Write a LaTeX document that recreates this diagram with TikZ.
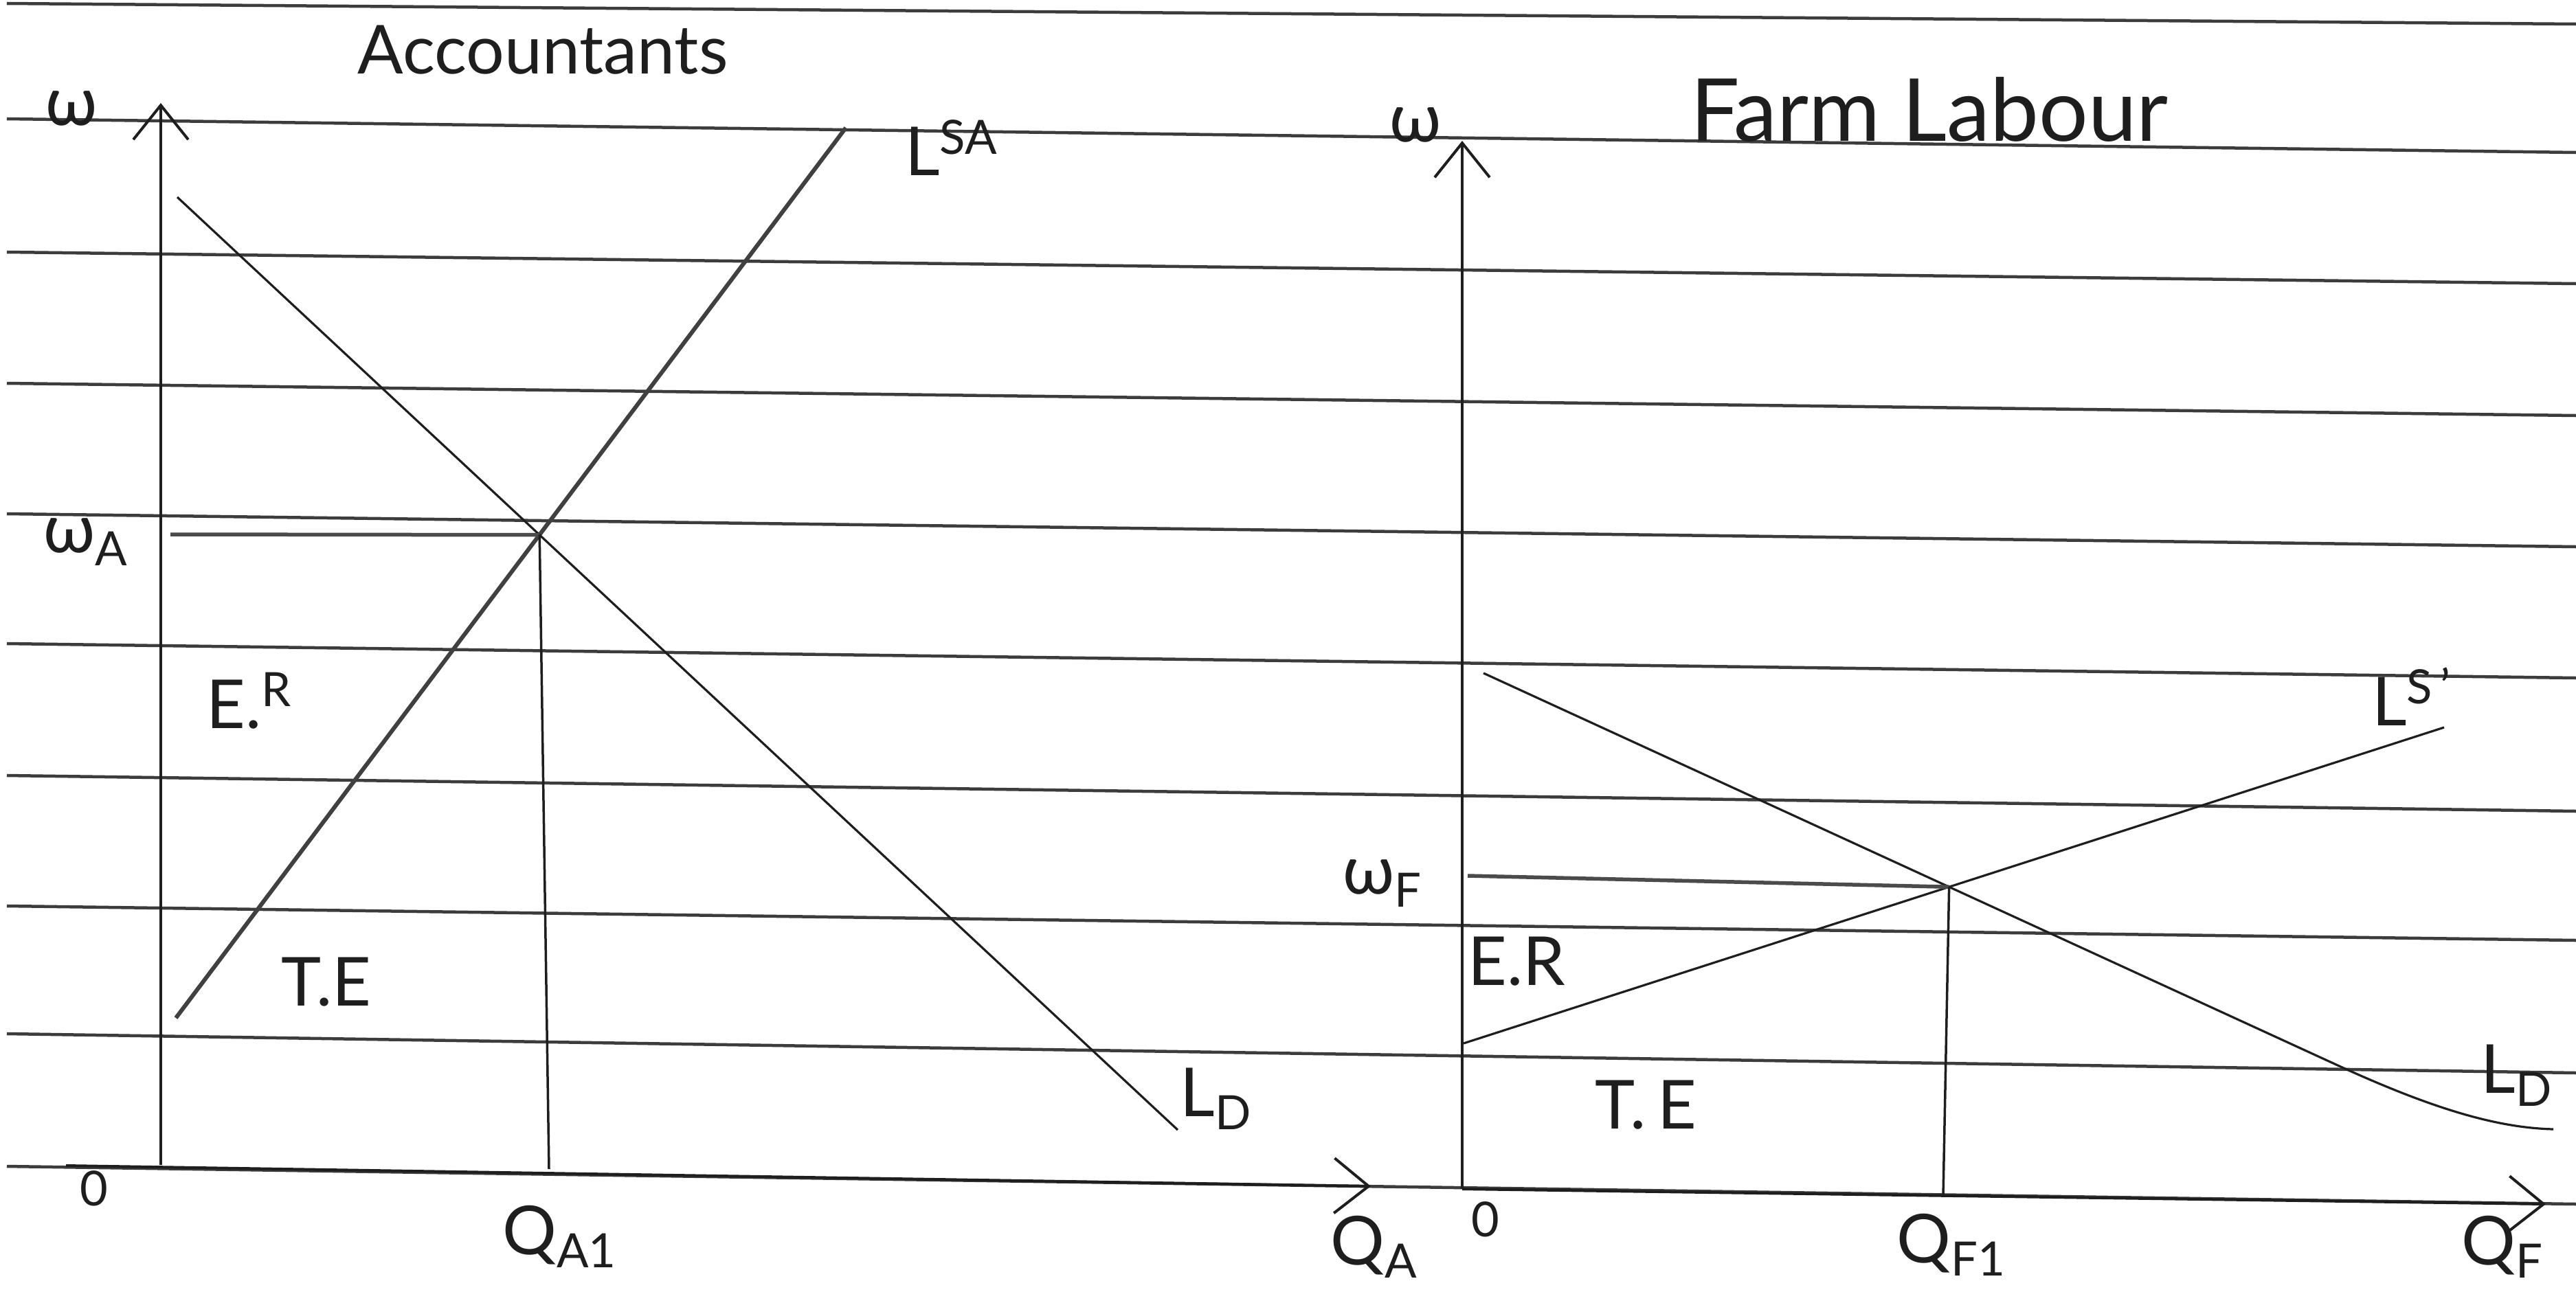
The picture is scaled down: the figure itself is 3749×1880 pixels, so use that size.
\documentclass[tikz,border=0pt]{standalone}
\usepackage{fontspec}
\setmainfont{Lato}
\usepackage{tikz}
\usetikzlibrary{arrows.meta}
\definecolor{ink}{HTML}{1E1E1E}
\definecolor{rule}{HTML}{3C3C3C}
\tikzset{
  paper/.style  = {draw=rule, line width=0.45mm},
  axis/.style   = {draw=ink, line width=0.4mm, -{Straight Barb[length=5mm, width=8mm]}},
  supply/.style = {draw=ink!85, line width=0.6mm},
  demand/.style = {draw=ink, line width=0.32mm},
  guide/.style  = {draw=ink!80, line width=0.55mm},
  drop/.style   = {draw=ink, line width=0.35mm},
  lbl/.style    = {font=\fontsize{28}{32}\selectfont, text=ink, inner sep=0pt},
  small/.style  = {font=\fontsize{20}{24}\selectfont, text=ink, inner sep=0pt},
  title/.style  = {font=\fontsize{#1}{#1}\selectfont, text=ink, inner sep=0pt, anchor=base},
}

\begin{document}
\begin{tikzpicture}[x=0.1mm, y=-0.1mm]
  \useasboundingbox (0,0) rectangle (3749,1880);

  %% ---------------- ruled paper ---------------------------------------------
  \foreach \l/\r in {5/35,173/222,367/413,558/605,748/796,937/987,1129/1181,1319/1369,1505/1562,1698/1753}
    \draw[paper] (10,\l) -- (3749,\r);

  %% ---------------- panel (a): accountants ----------------------------------
  \node[title=28] (ttlA) at (790,107) {Accountants};
  \coordinate (oA)  at (234,1696);
  \coordinate (yA)  at (234,150);
  \coordinate (xA0) at (96,1697);
  \coordinate (xA)  at (1995,1727);
  \draw[axis] (oA) -- (yA);
  \draw[axis] (xA0) -- (xA);

  \coordinate (sA0) at (256,1482);
  \coordinate (sA1) at (1231,186);
  \coordinate (dA0) at (258,287);
  \coordinate (dA1) at (1714,1645);
  \draw[supply] (sA0) -- (sA1);
  \draw[demand] (dA0) -- (dA1);
  \coordinate (eA) at (intersection of sA0--sA1 and dA0--dA1);
  \coordinate (wA) at (248,778);
  \coordinate (qA) at (799,1702);
  \draw[guide] (wA) -- (eA);
  \draw[drop] (eA) -- (qA);

  \node[lbl] (omA)  at (104,158)  {ω};
  \node[lbl] (wAl)  at (125,789)  {ω\textsubscript{A}};
  \node[lbl] (erA)  at (363,1020) {E.\textsuperscript{R}};
  \node[lbl] (teA)  at (475,1430) {T.E};
  \node[lbl] (lsA)  at (1385,215) {L\textsuperscript{SA}};
  \node[lbl] (ldA)  at (1770,1600) {L\textsubscript{D}};
  \node[small] (zA) at (137,1730) {0};
  \node[lbl] (qA1)  at (815,1800) {Q\textsubscript{A1}};
  \node[lbl] (qAx)  at (2000,1815) {Q\textsubscript{A}};

  %% ---------------- panel (b): farm labour ----------------------------------
  \node[title=36] (ttlF) at (2808,205) {Farm Labour};
  \coordinate (oF)  at (2128,1731);
  \coordinate (yF)  at (2128,205);
  \coordinate (xF)  at (3705,1753);
  \draw[axis] (oF) -- (yF);
  \draw[axis] (oF) -- (xF);

  \coordinate (sF0) at (2130,1519);
  \coordinate (sF1) at (3557,1059);
  \coordinate (dF0) at (2159,980);
  \coordinate (dFb) at (3400,1550);
  \coordinate (dF1) at (3716,1644);
  \draw[demand] (sF0) -- (sF1);
  \draw[demand] (dF0) -- (dFb) .. controls (3550,1619) and (3640,1642) .. (dF1);
  \coordinate (eF) at (intersection of sF0--sF1 and dF0--dFb);
  \coordinate (wF) at (2136,1275);
  \coordinate (qF) at (2828,1741);
  \draw[guide] (wF) -- (eF);
  \draw[drop] (eF) -- (qF);

  \node[lbl] (omF)  at (2060,182)  {ω};
  \node[lbl] (wFl)  at (2012,1286) {ω\textsubscript{F}};
  \node[lbl] (erF)  at (2207,1400) {E.R};
  \node[lbl] (teF)  at (2395,1609) {T.\,E};
  \node[lbl] (lsF)  at (3510,1014) {L\textsuperscript{S\,'}};
  \node[lbl] (ldF)  at (3663,1566) {L\textsubscript{D}};
  \node[small] (zF) at (2162,1775) {0};
  \node[lbl] (qF1)  at (2840,1812) {Q\textsubscript{F1}};
  \node[lbl] (qFx)  at (3642,1815) {Q\textsubscript{F}};
\end{tikzpicture}
\end{document}
